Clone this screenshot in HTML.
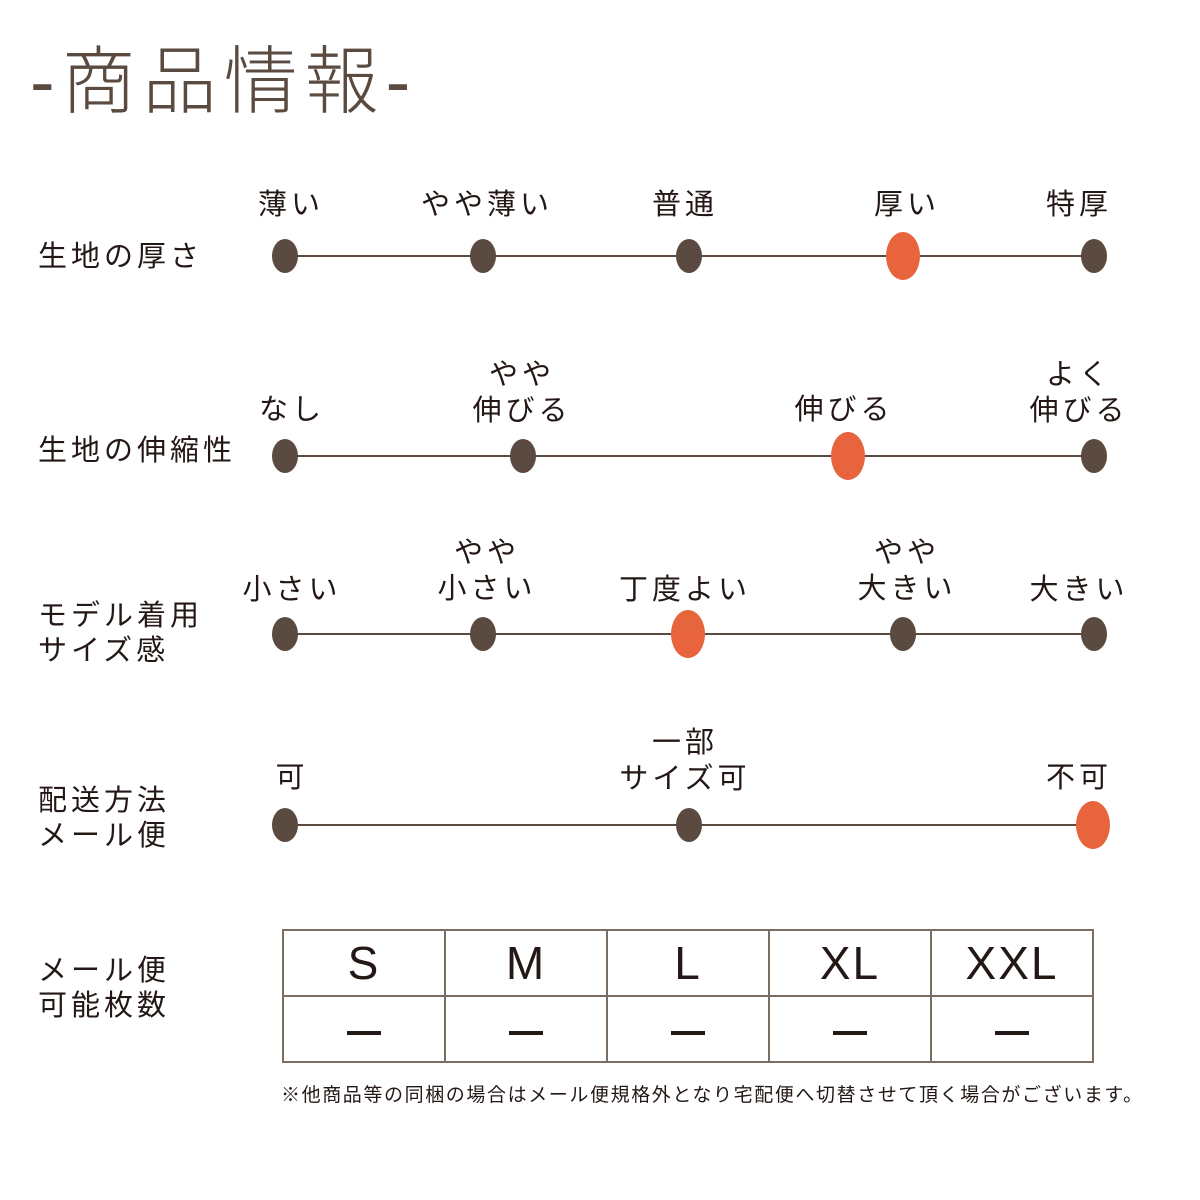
<!DOCTYPE html>
<html><head><meta charset="utf-8"><style>
body{margin:0;width:1200px;height:1200px;background:#fff;position:relative;overflow:hidden;font-family:"Liberation Sans","Noto Sans CJK JP",sans-serif;color:#231815}
.a{position:absolute;white-space:nowrap}
.c{transform:translateX(-50%);text-align:center;font-size:29px;line-height:36px;letter-spacing:4px;padding-left:4px}
.l{left:38px;font-size:29px;line-height:35px;letter-spacing:4px}
.line{position:absolute;height:2px;background:#5a4a40}
.d{position:absolute;width:26px;height:34px;border-radius:50%;background:#5a4a40;transform:translate(-50%,-50%)}
.o{width:34px;height:48px;background:#e8643c}
table{position:absolute;left:282px;top:929px;border-collapse:collapse}
td{border:2px solid #7a6e63;width:160px;height:64px;text-align:center;font-size:46px;padding:0;letter-spacing:2px}
</style></head><body>
<div class="a" style="left:30px;top:32px;font-size:74px;line-height:100px;color:#5a4a40;font-weight:300;letter-spacing:7px">-商品情報-</div>

<div class="a l" style="top:240px">生地の厚さ</div>
<div class="line" style="left:285px;width:810px;top:255px"></div>
<div class="a c" style="left:289px;top:187px">薄い</div>
<div class="a c" style="left:485px;top:187px">やや薄い</div>
<div class="a c" style="left:683px;top:187px">普通</div>
<div class="a c" style="left:905px;top:187px">厚い</div>
<div class="a c" style="left:1077px;top:187px">特厚</div>
<div class="d" style="left:285px;top:256px"></div><div class="d" style="left:483px;top:256px"></div><div class="d" style="left:689px;top:256px"></div><div class="d o" style="left:903px;top:256px"></div><div class="d" style="left:1094px;top:256px"></div>

<div class="a l" style="top:434px">生地の伸縮性</div>
<div class="line" style="left:285px;width:810px;top:455px"></div>
<div class="a c" style="left:290px;top:392px">なし</div>
<div class="a c" style="left:520px;top:357px">やや<br>伸びる</div>
<div class="a c" style="left:842px;top:392px">伸びる</div>
<div class="a c" style="left:1077px;top:357px">よく<br>伸びる</div>
<div class="d" style="left:285px;top:456px"></div><div class="d" style="left:523px;top:456px"></div><div class="d o" style="left:848px;top:456px"></div><div class="d" style="left:1094px;top:456px"></div>

<div class="a l" style="top:599px">モデル着用<br>サイズ感</div>
<div class="line" style="left:285px;width:810px;top:633px"></div>
<div class="a c" style="left:290px;top:572px">小さい</div>
<div class="a c" style="left:485px;top:535px">やや<br>小さい</div>
<div class="a c" style="left:683px;top:572px">丁度よい</div>
<div class="a c" style="left:905px;top:535px">やや<br>大きい</div>
<div class="a c" style="left:1077px;top:572px">大きい</div>
<div class="d" style="left:285px;top:634px"></div><div class="d" style="left:483px;top:634px"></div><div class="d o" style="left:688px;top:634px"></div><div class="d" style="left:903px;top:634px"></div><div class="d" style="left:1094px;top:634px"></div>

<div class="a l" style="top:784px">配送方法<br>メール便</div>
<div class="line" style="left:285px;width:810px;top:824px"></div>
<div class="a c" style="left:290px;top:760px">可</div>
<div class="a c" style="left:683px;top:725px">一部<br>サイズ可</div>
<div class="a c" style="left:1077px;top:760px">不可</div>
<div class="d" style="left:285px;top:825px"></div><div class="d" style="left:689px;top:825px"></div><div class="d o" style="left:1093px;top:825px"></div>

<div class="a l" style="top:954px">メール便<br>可能枚数</div>
<table><tr><td>S</td><td>M</td><td>L</td><td>XL</td><td>XXL</td></tr>
<tr><td><span style="display:inline-block;width:34px;height:4px;background:#231815;vertical-align:middle"></span></td><td><span style="display:inline-block;width:34px;height:4px;background:#231815;vertical-align:middle"></span></td><td><span style="display:inline-block;width:34px;height:4px;background:#231815;vertical-align:middle"></span></td><td><span style="display:inline-block;width:34px;height:4px;background:#231815;vertical-align:middle"></span></td><td><span style="display:inline-block;width:34px;height:4px;background:#231815;vertical-align:middle"></span></td></tr></table>
<div class="a" style="left:281px;top:1083px;font-size:19px;line-height:26px;letter-spacing:1.6px">※他商品等の同梱の場合はメール便規格外となり宅配便へ切替させて頂く場合がございます。</div>
</body></html>
